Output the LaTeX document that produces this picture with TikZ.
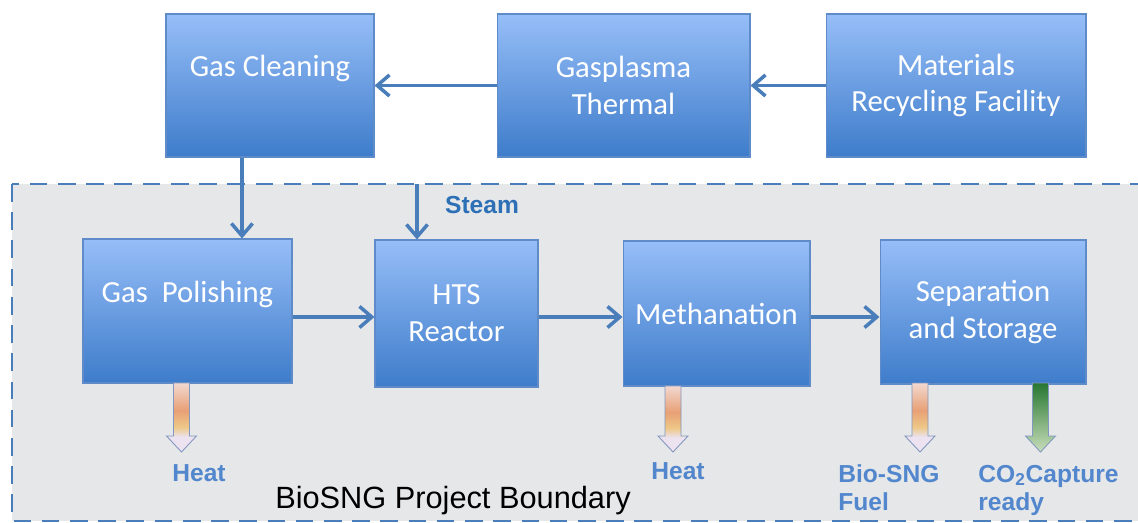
\documentclass[tikz,border=0pt]{standalone}
\usepackage{fontspec}
\setmainfont{Liberation Sans}
\newfontfamily\boxfont{Carlito}
\usetikzlibrary{arrows.meta}

\definecolor{boxtop}{RGB}{150,190,248}
\definecolor{boxbot}{RGB}{62,124,202}
\definecolor{boxline}{RGB}{95,140,200}
\definecolor{flowblue}{RGB}{74,126,187}
\definecolor{zonegray}{RGB}{230,231,233}
\definecolor{labblue}{RGB}{82,135,205}
\definecolor{steamblue}{RGB}{45,112,182}
\definecolor{heatpink}{RGB}{242,216,208}
\definecolor{heatorg}{RGB}{232,160,118}
\definecolor{heatyel}{RGB}{238,200,135}
\definecolor{heatlav}{RGB}{236,226,240}
\definecolor{co2dark}{RGB}{38,118,48}
\definecolor{co2light}{RGB}{200,222,186}
\definecolor{arrline}{RGB}{130,152,192}

\pgfdeclareverticalshading{heatfade}{100bp}{color(0bp)=(heatlav); color(36bp)=(heatlav); color(43bp)=(heatyel); color(55bp)=(heatorg); color(75bp)=(heatpink); color(100bp)=(heatpink)}

\tikzset{
  stage/.style={draw=boxline, line width=0.6pt, top color=boxtop, bottom color=boxbot,
    text=white, align=center, inner sep=2pt,
    font=\boxfont\fontsize{17.5}{21}\selectfont},
  flow/.style={draw=flowblue, line width=2pt, -{Straight Barb[length=7pt,width=12pt]}},
  outlab/.style={text=labblue, font=\bfseries\fontsize{14}{16}\selectfont, inner sep=0pt, align=left}
}

\begin{document}
\begin{tikzpicture}[x=0.02cm, y=-0.02cm]
\useasboundingbox (0,0) rectangle (1138,523);

% project boundary
\draw[draw=flowblue, fill=zonegray, line width=1.6pt, dash pattern=on 10bp off 6bp] (12,184) rectangle (1160,521);

% upper row
\node[stage, minimum width=4.16cm, minimum height=2.86cm] (clean) at (270,85.5) {Gas Cleaning\\[1pt]\mbox{}};
\node[stage, minimum width=5.06cm, minimum height=2.86cm] (plasma) at (623.5,85.5) {Gasplasma\\Thermal};
\node[stage, minimum width=5.2cm, minimum height=2.86cm] (mrf) at (956,85.5) {Materials\\Recycling Facility};

% lower row
\node[stage, minimum width=4.18cm, minimum height=2.88cm] (polish) at (187.5,311) {Gas\ \ Polishing\\[1pt]\mbox{}};
\node[stage, minimum width=3.26cm, minimum height=2.94cm] (hts) at (456.5,313.5) {HTS\\Reactor};
\node[stage, minimum width=3.74cm, minimum height=2.9cm] (meth) at (716.5,313.5) {Methanation};
\node[stage, minimum width=4.12cm, minimum height=2.88cm] (sep) at (983,312) {Separation\\and Storage};

\coordinate (dropx) at (242,0);
\coordinate (steamtop) at (417,184);
\coordinate (rowy) at (0,317);

\draw[flow] (mrf.west) -- (plasma.east);
\draw[flow] (plasma.west) -- (clean.east);
\draw[flow] (clean.south -| dropx) -- (polish.north -| dropx);
\draw[flow] (steamtop) -- (hts.north -| steamtop);
\draw[flow] (polish.east |- rowy) -- (hts.west |- rowy);
\draw[flow] (hts.east |- rowy) -- (meth.west |- rowy);
\draw[flow] (meth.east |- rowy) -- (sep.west |- rowy);

\node[text=steamblue, font=\bfseries\fontsize{14}{16}\selectfont, inner sep=0pt] (steam) at (482,205.5) {Steam};

% outputs
\foreach \ax/\ay in {181.5/383, 673/386, 920/383}
  \path[draw=arrline, line width=0.5pt, shading=heatfade]
    (\ax-8,\ay) -- (\ax+8,\ay) -- (\ax+8,436) -- (\ax+15,436) -- (\ax,452)
    -- (\ax-15,436) -- (\ax-8,436) -- cycle;
\path[draw=arrline, line width=0.5pt, top color=co2dark, bottom color=co2light]
  (1032.5,383) -- (1048.5,383) -- (1048.5,436) -- (1055.5,436) -- (1040.5,452)
  -- (1025.5,436) -- (1032.5,436) -- cycle;

\node[outlab] (heatA) at (199,473.5) {Heat};
\node[outlab] (heatB) at (678,471.5) {Heat};
\node[outlab, anchor=north west] (fuel) at (838,464.5) {Bio-SNG\\[0pt]Fuel};
\node[outlab, anchor=north west] (co2) at (978,464.5) {CO\textsubscript{2}Capture\\[0pt]ready};

\node[font=\fontsize{17.5}{20}\selectfont, anchor=base, inner sep=0pt] (zone) at (453,508) {BioSNG Project Boundary};
\end{tikzpicture}
\end{document}
